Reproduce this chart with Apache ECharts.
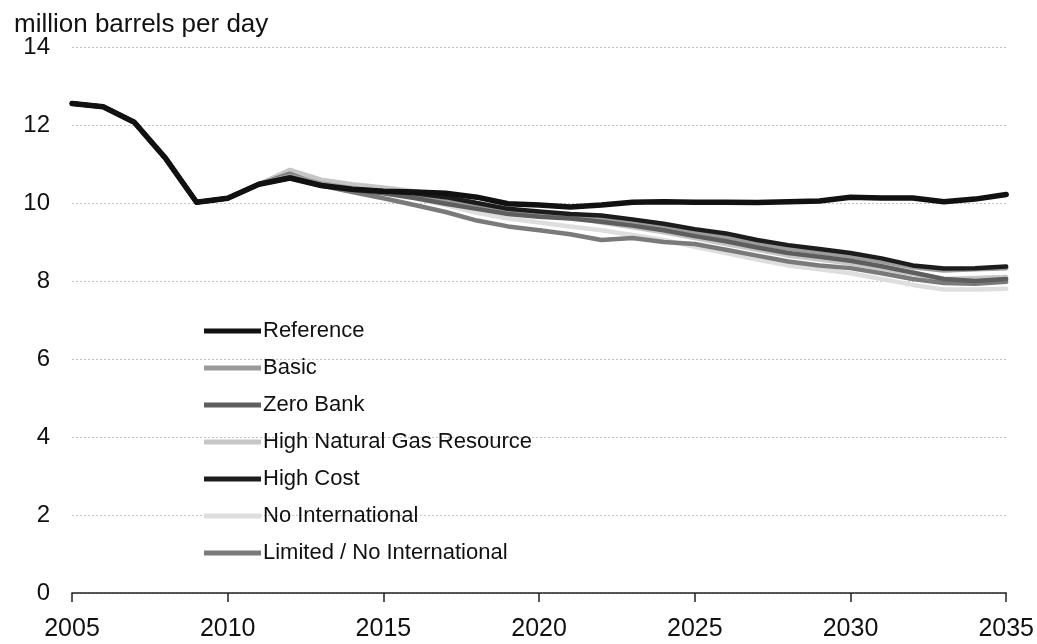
<!DOCTYPE html>
<html>
<head>
<meta charset="utf-8">
<script src="https://cdn.jsdelivr.net/npm/echarts@6/dist/echarts.min.js"></script>
<style>
  html, body { margin: 0; padding: 0; background: #fff; }
  #chart { width: 1037px; height: 644px; }
</style>
</head>
<body>
<div id="chart"></div>
<script>
// Liquids projections by case, million barrels per day, 2005-2035
const years = [];
for (let y = 2005; y <= 2035; y++) years.push(y);

// shared history 2005-2011
const history = [12.55, 12.47, 12.07, 11.15, 10.02, 10.12, 10.48];

const reference = history.concat([10.64, 10.45, 10.35, 10.30, 10.28, 10.25, 10.15, 9.98, 9.95, 9.90, 9.95, 10.02, 10.03, 10.02, 10.02, 10.01, 10.03, 10.05, 10.15, 10.13, 10.13, 10.03, 10.10, 10.22]);
const basic = history.concat([10.70, 10.50, 10.38, 10.30, 10.20, 10.05, 9.92, 9.78, 9.70, 9.65, 9.60, 9.50, 9.38, 9.24, 9.12, 8.96, 8.83, 8.73, 8.63, 8.50, 8.35, 8.27, 8.30, 8.33]);
const zeroBank = history.concat([10.66, 10.45, 10.33, 10.25, 10.13, 9.98, 9.85, 9.72, 9.65, 9.60, 9.52, 9.42, 9.30, 9.15, 9.02, 8.86, 8.72, 8.62, 8.52, 8.38, 8.22, 8.05, 8.00, 8.05]);
const highNatGas = history.concat([10.85, 10.60, 10.48, 10.40, 10.30, 10.18, 10.00, 9.85, 9.75, 9.65, 9.50, 9.38, 9.25, 9.10, 8.95, 8.80, 8.65, 8.55, 8.45, 8.32, 8.18, 8.05, 8.08, 8.10]);
const highCost = history.concat([10.64, 10.45, 10.35, 10.30, 10.25, 10.15, 10.00, 9.85, 9.78, 9.72, 9.68, 9.58, 9.47, 9.33, 9.22, 9.05, 8.92, 8.82, 8.72, 8.58, 8.40, 8.32, 8.33, 8.37]);
const noInternational = history.concat([10.80, 10.55, 10.40, 10.28, 10.12, 9.95, 9.75, 9.60, 9.50, 9.40, 9.30, 9.18, 9.05, 8.88, 8.72, 8.55, 8.40, 8.30, 8.20, 8.05, 7.90, 7.78, 7.78, 7.80]);
const limitedNoIntl = history.concat([10.75, 10.45, 10.28, 10.12, 9.95, 9.77, 9.55, 9.40, 9.30, 9.20, 9.05, 9.10, 9.00, 8.95, 8.80, 8.65, 8.50, 8.40, 8.33, 8.20, 8.05, 7.95, 7.93, 7.98]);

const yTicks = [0, 2, 4, 6, 8, 10, 12, 14];
const xTicks = [2005, 2010, 2015, 2020, 2025, 2030, 2035];

const cases = [
  { name: 'Reference', values: reference, color: '#111111', width: 5.5 },
  { name: 'Basic', values: basic, color: '#9a9a9a', width: 4.5 },
  { name: 'Zero Bank', values: zeroBank, color: '#5e5e5e', width: 4.5 },
  { name: 'High Natural Gas Resource', values: highNatGas, color: '#c6c6c6', width: 4.5 },
  { name: 'High Cost', values: highCost, color: '#1c1c1c', width: 4.5 },
  { name: 'No International', values: noInternational, color: '#dedede', width: 4.5 },
  { name: 'Limited / No International', values: limitedNoIntl, color: '#7a7a7a', width: 4.5 }
];

// lighter lines underneath, darker ones on top
const drawOrder = ['No International', 'High Natural Gas Resource', 'Limited / No International', 'Basic', 'Zero Bank', 'High Cost', 'Reference'];

const font = 'Liberation Sans, Arial, sans-serif';

const series = drawOrder.map(function (n) {
  const c = cases.find(function (k) { return k.name === n; });
  return {
    name: c.name,
    type: 'line',
    showSymbol: false,
    symbol: 'none',
    smooth: false,
    z: 2 + drawOrder.indexOf(n),
    data: years.map(function (y, i) { return [y, c.values[i]]; }),
    lineStyle: { color: c.color, width: c.width, join: 'round', cap: 'round' },
    itemStyle: { color: c.color }
  };
});

const chart = echarts.init(document.getElementById('chart'), null, { renderer: 'canvas' });
chart.setOption({
  animation: false,
  backgroundColor: '#ffffff',
  title: {
    text: 'million barrels per day',
    left: 9, top: 7,
    textStyle: { fontFamily: font, fontSize: 26, fontWeight: 'normal', color: '#111' }
  },
  grid: { left: 72, right: 30, top: 47, bottom: 51, containLabel: false },
  legend: {
    orient: 'vertical',
    left: 199, top: 315,
    data: cases.map(function (c) { return c.name; }),
    icon: 'rect',
    itemWidth: 57, itemHeight: 5,
    itemGap: 15,
    textStyle: { fontFamily: font, fontSize: 22, color: '#111', padding: [0, 0, 0, -3] }
  },
  xAxis: {
    type: 'value',
    min: 2005, max: 2035, interval: 5,
    axisLine: { show: true, lineStyle: { color: '#222', width: 1.5 } },
    axisTick: { show: true, inside: false, length: 9, lineStyle: { color: '#222', width: 1.5 } },
    axisLabel: {
      margin: 24,
      fontFamily: font, fontSize: 25, color: '#111',
      formatter: function (v) { return xTicks.indexOf(v) >= 0 ? String(v) : ''; }
    },
    splitLine: { show: false }
  },
  yAxis: {
    type: 'value',
    min: 0, max: 14, interval: 2,
    axisLine: { show: false },
    axisTick: { show: false },
    axisLabel: {
      margin: 22,
      fontFamily: font, fontSize: 24, color: '#111',
      formatter: function (v) { return yTicks.indexOf(v) >= 0 ? String(v) : ''; }
    },
    splitLine: { show: true, lineStyle: { color: '#c4c4c4', width: 1, type: [2, 2] } }
  },
  series: series
});
</script>
</body>
</html>
